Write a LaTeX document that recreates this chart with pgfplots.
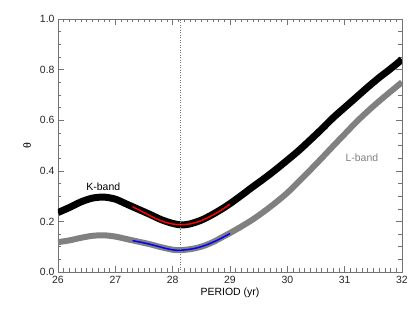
\documentclass[border=0pt]{standalone}
\usepackage{pgfplots}
\pgfplotsset{compat=1.18}
\usepackage{fontspec}
\setmainfont{Liberation Sans}
\definecolor{axgray}{gray}{0.45}
\definecolor{lgray}{gray}{0.5}
\begin{document}
\begin{tikzpicture}
\useasboundingbox (-58bp,-37bp) rectangle (361bp,272bp);
\begin{axis}[
  at={(0,0)}, anchor=south west,
  scale only axis, width=344bp, height=253bp,
  xmin=26, xmax=32, ymin=0, ymax=1,
  xtick={26,27,...,32}, ytick={0,0.2,...,1.0},
  minor x tick num=9, minor y tick num=3,
  tick align=inside,
  major tick length=6bp, minor tick length=3.5bp,
  every tick/.style={axgray, line width=0.5pt},
  axis line style={axgray, line width=0.6pt},
  /pgf/number format/assume math mode=true,
  xticklabel style={font=\fontsize{10.5}{12}\selectfont, text=black!85, yshift=-1bp},
  yticklabel style={font=\fontsize{10.5}{12}\selectfont, text=black!85},
  yticklabel={\pgfmathprintnumber[fixed,fixed zerofill,precision=1]{\tick}},
  xlabel={PERIOD (yr)}, ylabel={θ},
  xlabel style={font=\fontsize{10.5}{12}\selectfont, at={(axis description cs:0.5,-0.083)}, anchor=center},
  ylabel style={font=\fontsize{10.5}{12}\selectfont, at={(axis description cs:-0.09,0.5)}, anchor=center, rotate=0},
  clip=true,
]
\addplot[black, line width=7bp, smooth, line join=round] coordinates {
(26.0,0.235) (26.2,0.255) (26.4,0.277) (26.6,0.292) (26.8,0.296) (27.0,0.288)
(27.2,0.268) (27.4,0.248) (27.6,0.228) (27.8,0.207) (28.0,0.192) (28.15,0.186)
(28.3,0.19) (28.5,0.205) (28.7,0.228) (28.9,0.255) (29.0,0.27) (29.2,0.303)
(29.4,0.337) (29.6,0.37) (29.8,0.405) (30.0,0.442) (30.2,0.48) (30.4,0.522)
(30.6,0.565) (30.8,0.61) (31.0,0.65) (31.2,0.69) (31.4,0.73) (31.6,0.768)
(31.8,0.803) (32.0,0.84)};
\addplot[lgray, line width=6bp, smooth, line join=round] coordinates {
(26.0,0.118) (26.2,0.125) (26.4,0.135) (26.6,0.143) (26.8,0.145) (27.0,0.14)
(27.2,0.13) (27.4,0.12) (27.6,0.11) (27.8,0.098) (28.0,0.088) (28.1,0.086)
(28.3,0.09) (28.5,0.1) (28.7,0.118) (28.9,0.142) (29.0,0.154) (29.2,0.18)
(29.4,0.208) (29.6,0.24) (29.8,0.275) (30.0,0.313) (30.2,0.357) (30.4,0.403)
(30.6,0.45) (30.8,0.498) (31.0,0.545) (31.2,0.592) (31.4,0.635) (31.6,0.675)
(31.8,0.713) (32.0,0.75)};
\addplot[red, line width=1.5bp, smooth] coordinates {
(27.3,0.258) (27.5,0.235) (27.7,0.212) (27.9,0.195) (28.1,0.187) (28.3,0.19)
(28.5,0.203) (28.7,0.225) (28.9,0.252) (29.0,0.268)};
\addplot[blue, line width=1.5bp, smooth] coordinates {
(27.3,0.124) (27.5,0.115) (27.7,0.104) (27.9,0.092) (28.05,0.086) (28.2,0.087)
(28.4,0.094) (28.6,0.108) (28.8,0.128) (29.0,0.152)};
\addplot[axgray, dotted, line width=0.5pt] coordinates {(28.13,0) (28.13,1)};
\node[font=\fontsize{10.5}{12}\selectfont, text=black] at (axis cs:26.79,0.336) {K-band};
\node[font=\fontsize{10.5}{12}\selectfont, text=lgray] at (axis cs:31.3,0.45) {L-band};
\end{axis}
\end{tikzpicture}
\end{document}
